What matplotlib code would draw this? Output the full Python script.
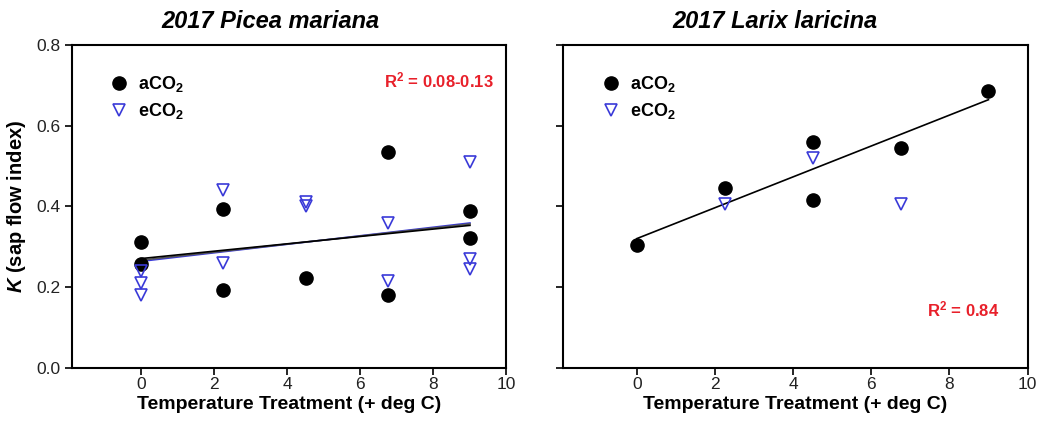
import numpy as np
import matplotlib
matplotlib.use('Agg')
import matplotlib.pyplot as plt

plt.rcParams['font.family'] = ['Liberation Sans', 'DejaVu Sans']
plt.rcParams['mathtext.fontset'] = 'custom'
plt.rcParams['mathtext.rm'] = 'Liberation Sans:bold'
plt.rcParams['mathtext.bf'] = 'Liberation Sans:bold'
plt.rcParams['mathtext.it'] = 'Liberation Sans:bold:italic'

# Picea mariana
pm_a_x = [0, 0, 2.25, 2.25, 4.5, 6.75, 6.75, 9, 9]
pm_a_y = [0.313, 0.258, 0.395, 0.193, 0.222, 0.535, 0.180, 0.390, 0.323]
pm_e_x = [0, 0, 0, 2.25, 2.25, 4.5, 4.5, 6.75, 6.75, 9, 9, 9]
pm_e_y = [0.240, 0.210, 0.180, 0.440, 0.260, 0.410, 0.400, 0.360, 0.215, 0.510, 0.270, 0.245]

# Larix laricina
ll_a_x = [0, 2.25, 4.5, 4.5, 6.75, 9]
ll_a_y = [0.305, 0.445, 0.560, 0.415, 0.545, 0.685]
ll_e_x = [2.25, 4.5, 6.75]
ll_e_y = [0.405, 0.520, 0.405]

blue = '#3a3ad8'

fig = plt.figure(figsize=(10.4, 4.37), dpi=100)
ax1 = fig.add_axes([0.069, 0.158, 0.418, 0.739])
ax2 = fig.add_axes([0.541, 0.158, 0.447, 0.739])


def fitline(ax, x, y, color, lw=1.2):
    p = np.polyfit(x, y, 1)
    xx = np.array([0, 9])
    ax.plot(xx, np.polyval(p, xx), color=color, lw=lw, zorder=2)


for ax in (ax1, ax2):
    ax.set_xlim(-1.9, 10)
    ax.set_ylim(0, 0.8)
    ax.set_xticks([0, 2, 4, 6, 8, 10])
    ax.set_yticks([0, 0.2, 0.4, 0.6, 0.8])
    ax.tick_params(direction='out', length=5, width=1.2, labelsize=12.5,
                   labelcolor='#222222', top=False, right=False)
    ax.tick_params(axis='x', pad=1.5)
    ax.tick_params(axis='y', pad=3)
    for s in ax.spines.values():
        s.set_linewidth(1.5)
    ax.set_xlabel('Temperature Treatment (+ deg C)', fontsize=14,
                  fontweight='bold', labelpad=3)

ax1.set_yticklabels(['0.0', '0.2', '0.4', '0.6', '0.8'])
ax2.set_yticklabels([])

# left panel
fitline(ax1, pm_e_x, pm_e_y, blue)
fitline(ax1, pm_a_x + pm_e_x, pm_a_y + pm_e_y, '#555555')
fitline(ax1, pm_a_x, pm_a_y, 'black')
ax1.plot(pm_a_x, pm_a_y, 'o', color='black', ms=9.5, ls='none', label=r'aCO$_\mathbf{2}$', zorder=3)
ax1.plot(pm_e_x, pm_e_y, 'v', mfc='none', mec=blue, mew=1.2, ms=8.5, ls='none', label=r'eCO$_\mathbf{2}$', zorder=3)
ax1.set_title('2017 Picea mariana', fontsize=17, fontweight='bold', style='italic', pad=12, x=0.457)
ax1.set_ylabel(r'$\mathit{K}$ (sap flow index)', fontsize=14.5, fontweight='bold', labelpad=6)
ax1.text(0.97, 0.89, r'R$^\mathbf{2}$ = 0.08-0.13', transform=ax1.transAxes, ha='right',
         va='center', color='#e8202a', fontsize=12, fontweight='bold')

# right panel
fitline(ax2, ll_a_x, ll_a_y, 'black')
ax2.plot(ll_a_x, ll_a_y, 'o', color='black', ms=9.5, ls='none', label=r'aCO$_\mathbf{2}$', zorder=3)
ax2.plot(ll_e_x, ll_e_y, 'v', mfc='none', mec=blue, mew=1.2, ms=8.5, ls='none', label=r'eCO$_\mathbf{2}$', zorder=3)
ax2.set_title('2017 Larix laricina', fontsize=17, fontweight='bold', style='italic', pad=12, x=0.456)
ax2.text(0.94, 0.18, r'R$^\mathbf{2}$ = 0.84', transform=ax2.transAxes, ha='right',
         va='center', color='#e8202a', fontsize=12, fontweight='bold')

for ax in (ax1, ax2):
    leg = ax.legend(loc='upper left', bbox_to_anchor=(0.04, 0.96), frameon=False,
                    fontsize=13, handletextpad=0.3, labelspacing=0.4, handlelength=1.5)
    for t in leg.get_texts():
        t.set_fontweight('bold')

fig.savefig('out.png', dpi=100)
